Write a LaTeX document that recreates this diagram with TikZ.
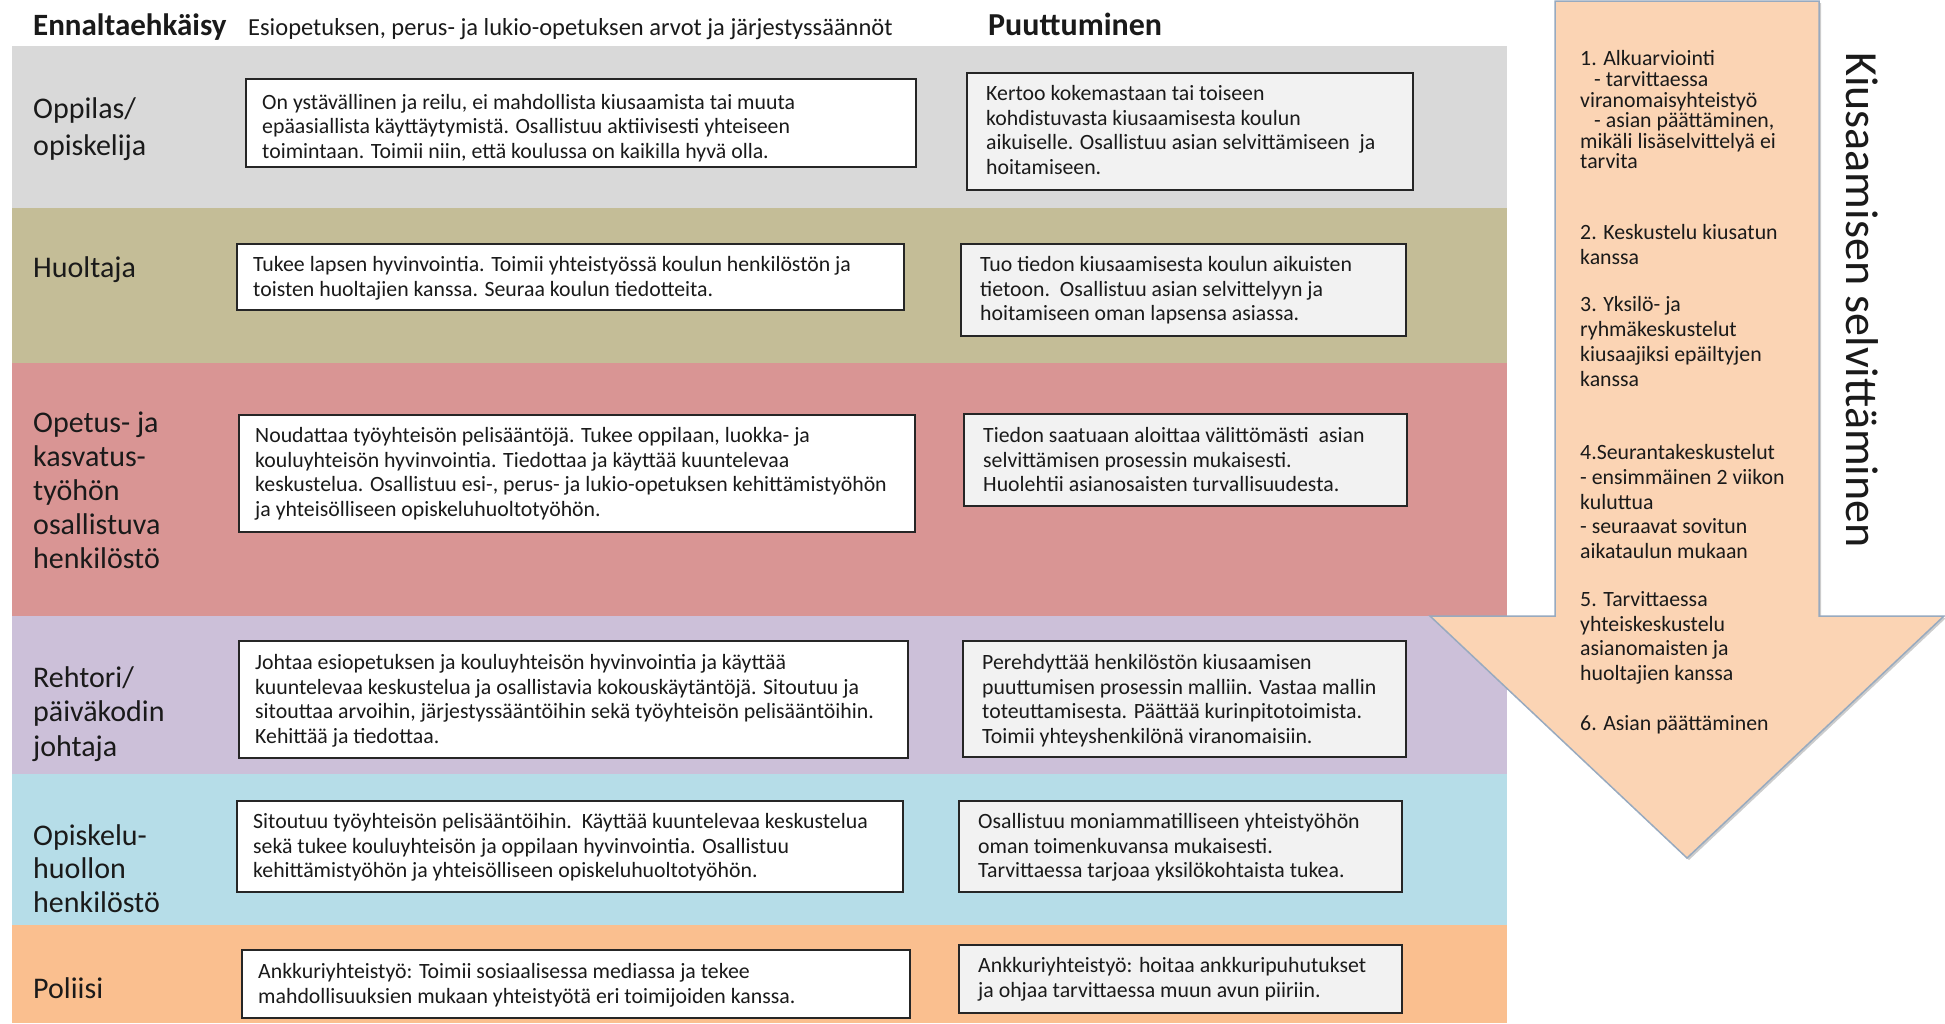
\documentclass[tikz,border=0pt]{standalone}
\usepackage{fontspec}
\setmainfont{Carlito}
\usetikzlibrary{shadows}
\definecolor{bandA}{HTML}{D9D9D9}
\definecolor{bandB}{HTML}{C4BD97}
\definecolor{bandC}{HTML}{D99594}
\definecolor{bandD}{HTML}{CCC0D9}
\definecolor{bandE}{HTML}{B6DDE8}
\definecolor{bandF}{HTML}{FABF8F}
\definecolor{arrowfill}{HTML}{FBD4B4}
\definecolor{arrowline}{HTML}{98AABF}
\definecolor{boxline}{HTML}{262626}
\definecolor{rboxfill}{HTML}{F2F2F2}
\definecolor{txtc}{HTML}{1A1A1A}
\begin{document}
\begin{tikzpicture}[x=1pt,y=-1pt,
  band/.style={fill=#1, draw=none, inner sep=0pt, outer sep=0pt, anchor=north west, minimum width=1495pt},
  lbox/.style={draw=boxline, fill=white, line width=1.6pt, inner sep=0pt, anchor=north west,
    drop shadow={shadow xshift=1.5pt, shadow yshift=-1.5pt, opacity=0.35, fill=black}},
  rbox/.style={lbox, fill=rboxfill},
  btxt/.style={font=\fontsize{21.8}{24.4}\selectfont, text=txtc, align=left, inner sep=0pt, anchor=north west},
  atxt/.style={btxt, font=\fontsize{21.8}{24.6}\selectfont},
  lab/.style={font=\fontsize{30}{34.5}\selectfont, text=txtc, align=left, inner sep=0pt, anchor=north west},
  head/.style={text=txtc, inner sep=0pt, anchor=base west}
]
\fill[white] (0,0) rectangle (1945,1023);
\useasboundingbox (0,0) rectangle (1945,1023);

% bands
\node[band=bandA, minimum height=162pt] (bA) at (12,46) {};
\node[band=bandB, minimum height=155pt] (bB) at (12,208) {};
\node[band=bandC, minimum height=253pt] (bC) at (12,363) {};
\node[band=bandD, minimum height=158pt] (bD) at (12,616) {};
\node[band=bandE, minimum height=151pt] (bE) at (12,774) {};
\node[band=bandF, minimum height=98pt] (bF) at (12,925) {};

% headers
\node[head, font=\fontsize{31}{36}\selectfont\bfseries] (h1) at (33,35) {Ennaltaehkäisy};
\node[head, font=\fontsize{24.5}{28}\selectfont] (h2) at (248,35) {Esiopetuksen, perus- ja lukio-opetuksen arvot ja järjestyssäännöt};
\node[head, font=\fontsize{32}{36}\selectfont\bfseries] (h3) at (988,35) {Puuttuminen};

% row labels
\node[lab, font=\fontsize{30}{37}\selectfont] (lab1) at (33,97) {Oppilas/\\opiskelija};
\node[lab] (lab2) at (33,256) {Huoltaja};
\node[lab, font=\fontsize{30}{34}\selectfont] (lab3) at (33,412) {Opetus- ja\\kasvatus-\\työhön\\osallistuva\\henkilöstö};
\node[lab] (lab4) at (33,666) {Rehtori/\\päiväkodin\\johtaja};
\node[lab, font=\fontsize{30}{33.5}\selectfont] (lab5) at (33,824) {Opiskelu-\\huollon\\henkilöstö};
\node[lab] (lab6) at (33,977) {Poliisi};

% left boxes
\node[lbox, minimum width=670pt, minimum height=88pt] (l1) at (245,78) {};
\node[lbox, minimum width=667pt, minimum height=66pt] (l2) at (236,243) {};
\node[lbox, minimum width=676pt, minimum height=117pt] (l3) at (238,414) {};
\node[lbox, minimum width=669pt, minimum height=117pt] (l4) at (238,640) {};
\node[lbox, minimum width=666pt, minimum height=91pt] (l5) at (236,800) {};
\node[lbox, minimum width=668pt, minimum height=68pt] (l6) at (241,949) {};

% right boxes
\node[rbox, minimum width=446pt, minimum height=117pt] (r1) at (966,72) {};
\node[rbox, minimum width=445pt, minimum height=92pt] (r2) at (960,243) {};
\node[rbox, minimum width=443pt, minimum height=92pt] (r3) at (963,413) {};
\node[rbox, minimum width=443pt, minimum height=116pt] (r4) at (962,640) {};
\node[rbox, minimum width=443pt, minimum height=91pt] (r5) at (958,800) {};
\node[rbox, minimum width=443pt, minimum height=68pt] (r6) at (958,944) {};

% left texts
\node[btxt] (lt1) at (262,94) {On ystävällinen ja reilu, ei mahdollista kiusaamista tai muuta\\epäasiallista käyttäytymistä. Osallistuu aktiivisesti yhteiseen\\toimintaan. Toimii niin, että koulussa on kaikilla hyvä olla.};
\node[btxt] (lt2) at (253,256.5) {Tukee lapsen hyvinvointia. Toimii yhteistyössä koulun henkilöstön ja\\toisten huoltajien kanssa. Seuraa koulun tiedotteita.};
\node[btxt] (lt3) at (255,427.5) {Noudattaa työyhteisön pelisääntöjä. Tukee oppilaan, luokka- ja\\kouluyhteisön hyvinvointia. Tiedottaa ja käyttää kuuntelevaa\\keskustelua. Osallistuu esi-, perus- ja lukio-opetuksen kehittämistyöhön\\ja yhteisölliseen opiskeluhuoltotyöhön.};
\node[btxt] (lt4) at (255,654.5) {Johtaa esiopetuksen ja kouluyhteisön hyvinvointia ja käyttää\\kuuntelevaa keskustelua ja osallistavia kokouskäytäntöjä. Sitoutuu ja\\sitouttaa arvoihin, järjestyssääntöihin sekä työyhteisön pelisääntöihin.\\Kehittää ja tiedottaa.};
\node[btxt] (lt5) at (253,813.5) {Sitoutuu työyhteisön pelisääntöihin.\ \ Käyttää kuuntelevaa keskustelua\\sekä tukee kouluyhteisön ja oppilaan hyvinvointia. Osallistuu\\kehittämistyöhön ja yhteisölliseen opiskeluhuoltotyöhön.};
\node[btxt] (lt6) at (258,963.5) {Ankkuriyhteistyö: Toimii sosiaalisessa mediassa ja tekee\\mahdollisuuksien mukaan yhteistyötä eri toimijoiden kanssa.};

% right texts
\node[btxt] (rt1) at (986,85.5) {Kertoo kokemastaan tai toiseen\\kohdistuvasta kiusaamisesta koulun\\aikuiselle. Osallistuu asian selvittämiseen\ \ ja\\hoitamiseen.};
\node[btxt] (rt2) at (980,256.5) {Tuo tiedon kiusaamisesta koulun aikuisten\\tietoon.\ \ Osallistuu asian selvittelyyn ja\\hoitamiseen oman lapsensa asiassa.};
\node[btxt] (rt3) at (983,427.5) {Tiedon saatuaan aloittaa välittömästi\ \ asian\\selvittämisen prosessin mukaisesti.\\Huolehtii asianosaisten turvallisuudesta.};
\node[btxt] (rt4) at (982,654.5) {Perehdyttää henkilöstön kiusaamisen\\puuttumisen prosessin malliin. Vastaa mallin\\toteuttamisesta. Päättää kurinpitotoimista.\\Toimii yhteyshenkilönä viranomaisiin.};
\node[btxt] (rt5) at (978,813.5) {Osallistuu moniammatilliseen yhteistyöhön\\oman toimenkuvansa mukaisesti.\\Tarvittaessa tarjoaa yksilökohtaista tukea.};
\node[btxt] (rt6) at (978,957.5) {Ankkuriyhteistyö: hoitaa ankkuripuhutukset\\ja ohjaa tarvittaessa muun avun piiriin.};

% big arrow
\draw[draw=arrowline, fill=arrowfill, line width=1.5pt, line join=miter,
  drop shadow={shadow xshift=2pt, shadow yshift=-2pt, opacity=0.2, fill=black}]
  (1555,1) -- (1819,1) -- (1819,616) -- (1944,616) -- (1687,858) -- (1430,616) -- (1555,616) -- cycle;

% arrow texts
\node[atxt, font=\fontsize{21.8}{20.6}\selectfont] (a1) at (1580,50.5) {1. Alkuarviointi\\\hspace*{14pt}- tarvittaessa\\viranomaisyhteistyö\\\hspace*{14pt}- asian päättäminen,\\mikäli lisäselvittelyä ei\\tarvita};
\node[atxt, font=\fontsize{21.8}{25}\selectfont] (a2) at (1580,224.5) {2. Keskustelu kiusatun\\kanssa};
\node[atxt, font=\fontsize{21.8}{25}\selectfont] (a3) at (1580,296.5) {3. Yksilö- ja\\ryhmäkeskustelut\\kiusaajiksi epäiltyjen\\kanssa};
\node[atxt] (a4) at (1580,444.5) {4.Seurantakeskustelut\\- ensimmäinen 2 viikon\\kuluttua\\- seuraavat sovitun\\aikataulun mukaan};
\node[atxt] (a5) at (1580,591.5) {5. Tarvittaessa\\yhteiskeskustelu\\asianomaisten ja\\huoltajien kanssa};
\node[atxt] (a6) at (1580,715.5) {6. Asian päättäminen};

% vertical title
\node[rotate=-90, font=\fontsize{46}{50}\selectfont, text=txtc, inner sep=0pt] (vt) at (1862,300) {Kiusaamisen selvittäminen};
\end{tikzpicture}
\end{document}
